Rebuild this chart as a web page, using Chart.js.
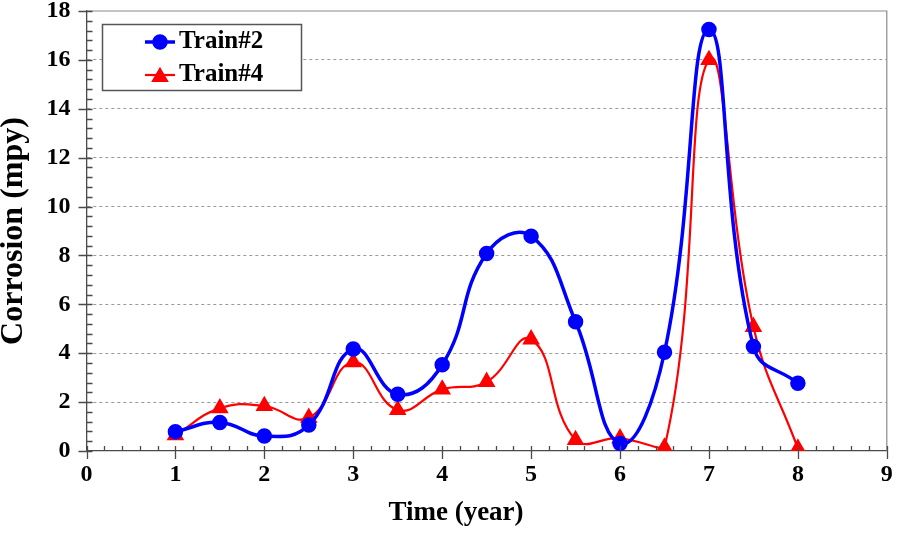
<!DOCTYPE html>
<html>
<head>
<meta charset="utf-8">
<script src="https://cdn.jsdelivr.net/npm/chart.js@4"></script>
<style>
  html, body { margin: 0; padding: 0; background: #fff; }
  #c { display: block; }
</style>
</head>
<body>
<canvas id="c" width="897" height="533"></canvas>
<script>
// data
const years = [1, 1.5, 2, 2.5, 3, 3.5, 4, 4.5, 5, 5.5, 6, 6.5, 7, 7.5, 8];
const train2 = [0.79, 1.17, 0.61, 1.06, 4.17, 2.32, 3.53, 8.08, 8.79, 5.29, 0.31, 4.04, 17.24, 4.27, 2.77];
const train4 = [0.65, 1.75, 1.84, 1.36, 3.63, 1.68, 2.52, 2.83, 4.57, 0.45, 0.52, 0.15, 16.0, 5.08, 0.1];
const seriesNames = ['Train#2', 'Train#4'];
const xTicks = [0, 1, 2, 3, 4, 5, 6, 7, 8, 9];
const yTicks = [0, 2, 4, 6, 8, 10, 12, 14, 16, 18];
const xTitle = 'Time (year)';
const yTitle = 'Corrosion (mpy)';

const SERIF = '"Liberation Serif", "Times New Roman", serif';
const AXIS = '#4a4a4a';

function pts(xs, ys) {
    return xs.map((x, i) => ({ x: x, y: ys[i] }));
}

// minor/major ticks, frame on top and right, x title
const frameTicks = {
    id: 'frameTicks',
    afterDraw(chart) {
        const ctx = chart.ctx;
        const a = chart.chartArea;
        const xs = chart.scales.x, ys = chart.scales.y;
        ctx.save();
        ctx.strokeStyle = '#8a8a8a';
        ctx.lineWidth = 1.2;
        ctx.beginPath();
        ctx.moveTo(a.left, a.top); ctx.lineTo(a.right, a.top); ctx.lineTo(a.right, a.bottom);
        ctx.stroke();

        ctx.strokeStyle = AXIS;
        ctx.lineWidth = 1.3;
        ctx.beginPath();
        // x minor every 0.2
        for (let v = 0; v <= 9.001; v += 0.2) {
            const px = Math.round(xs.getPixelForValue(v)) + 0.5;
            ctx.moveTo(px, a.bottom); ctx.lineTo(px, a.bottom - 5);
        }
        xTicks.forEach(v => {
            const px = Math.round(xs.getPixelForValue(v)) + 0.5;
            ctx.moveTo(px, a.bottom - 5); ctx.lineTo(px, a.bottom + 8);
        });
        // y minor every 0.4
        for (let v = 0; v <= 18.001; v += 0.4) {
            const py = Math.round(ys.getPixelForValue(v)) + 0.5;
            ctx.moveTo(a.left, py); ctx.lineTo(a.left + 6, py);
        }
        yTicks.forEach(v => {
            const py = Math.round(ys.getPixelForValue(v)) + 0.5;
            ctx.moveTo(a.left - 8, py); ctx.lineTo(a.left + 6, py);
        });
        ctx.stroke();

        // x title sits a bit left of the plot centre in the original
        ctx.fillStyle = '#000';
        ctx.font = 'bold 27px ' + SERIF;
        ctx.textAlign = 'center';
        ctx.textBaseline = 'middle';
        ctx.fillText(xTitle, 456, 513);
        ctx.restore();
    }
};

// legend box inside the plot, upper left
const boxLegend = {
    id: 'boxLegend',
    afterDraw(chart) {
        const ctx = chart.ctx;
        ctx.save();
        ctx.fillStyle = '#fff';
        ctx.fillRect(102, 24, 199, 66);
        ctx.strokeStyle = '#555';
        ctx.lineWidth = 1.5;
        ctx.strokeRect(102.5, 24.5, 199, 66);
        const rows = [42, 75];
        chart.data.datasets.forEach((ds, i) => {
            const y = rows[i];
            ctx.strokeStyle = ds.borderColor;
            ctx.lineWidth = ds.borderWidth;
            ctx.beginPath();
            ctx.moveTo(145, y); ctx.lineTo(175, y);
            ctx.stroke();
            Chart.helpers.drawPoint(ctx, {
                pointStyle: ds.pointStyle, radius: ds.pointRadius, borderWidth: 1, rotation: 0
            }, 160, ds.pointStyle === 'triangle' ? y + 2 : y);
            ctx.fillStyle = ds.pointBackgroundColor;
            ctx.fill();
            ctx.fillStyle = '#000';
            ctx.font = 'bold 25px ' + SERIF;
            ctx.textBaseline = 'middle';
            ctx.textAlign = 'left';
            ctx.fillText(ds.label, 179, y);
        });
        ctx.restore();
    }
};

new Chart(document.getElementById('c'), {
    type: 'line',
    data: {
        datasets: [
            {
                label: seriesNames[0],
                data: pts(years, train2),
                borderColor: '#0000ff',
                backgroundColor: '#0000ff',
                pointBackgroundColor: '#0000ff',
                pointBorderColor: '#0000ff',
                borderWidth: 3.5,
                pointStyle: 'circle',
                pointRadius: 6,
                tension: 0.45
            },
            {
                label: seriesNames[1],
                data: pts(years, train4),
                borderColor: '#ff0000',
                backgroundColor: '#ff0000',
                pointBackgroundColor: '#ff0000',
                pointBorderColor: '#ff0000',
                borderWidth: 2.2,
                pointStyle: 'triangle',
                pointRadius: 8,
                tension: 0.45
            }
        ]
    },
    options: {
        responsive: false,
        animation: false,
        events: [],
        layout: { padding: { top: 11, right: 9, left: 0, bottom: 0 } },
        plugins: { legend: { display: false }, tooltip: { enabled: false } },
        scales: {
            x: {
                type: 'linear',
                min: 0, max: 9,
                afterFit(s) { s.height = 82; s.paddingLeft = 0; s.paddingRight = 0; },
                afterBuildTicks(s) { s.ticks = xTicks.map(v => ({ value: v })); },
                grid: { display: false, drawTicks: false },
                border: { display: true, color: AXIS, width: 1.3 },
                ticks: {
                    autoSkip: false, maxRotation: 0, padding: 9, color: '#000',
                    font: { family: SERIF, size: 24, weight: 'bold' }
                },
                title: { display: false }
            },
            y: {
                min: 0, max: 18,
                afterFit(s) { s.width = 86.5; s.paddingTop = 0; s.paddingBottom = 0; },
                afterBuildTicks(s) { s.ticks = yTicks.map(v => ({ value: v })); },
                grid: {
                    drawTicks: false,
                    color: ctx => (ctx.tick && (ctx.tick.value === 0 || ctx.tick.value === 18)) ? 'rgba(0,0,0,0)' : '#9a9a9a',
                    lineWidth: 1
                },
                border: { display: true, color: AXIS, width: 1.3, dash: [3, 3] },
                ticks: {
                    autoSkip: false, padding: 16, color: '#000',
                    font: { family: SERIF, size: 24, weight: 'bold' }
                },
                title: {
                    display: true, text: yTitle, color: '#000',
                    font: { family: SERIF, size: 32, weight: 'bold', lineHeight: 1 },
                    padding: { top: -2, bottom: 0 }
                }
            }
        }
    },
    plugins: [frameTicks, boxLegend]
});
</script>
</body>
</html>
